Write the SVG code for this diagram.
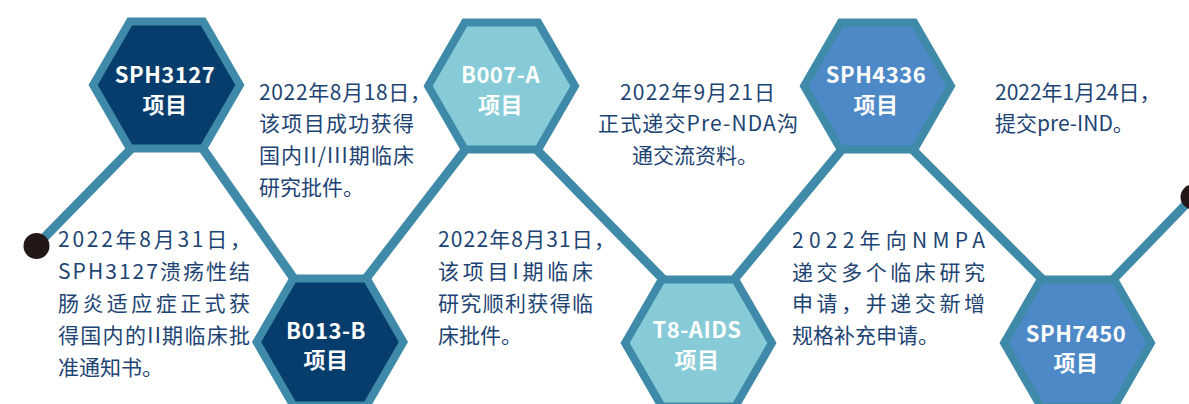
<svg xmlns="http://www.w3.org/2000/svg" width="1189" height="404" viewBox="0 0 1189 404">
<style>
.bg{fill:#ffffff}
.hex{stroke:#3f8aa8;stroke-width:8;stroke-linejoin:miter}
.dark{fill:#063d6d}
.light{fill:#86cbd7}
.mid{fill:#4e89c7}
.conn line{stroke:#3f8aa8;stroke-width:9;stroke-linecap:butt}
.dot{fill:#231815}
.lbl{font-family:"Noto Sans CJK SC","Noto Sans",sans-serif;font-size:22px;font-weight:700;fill:#ffffff;text-anchor:middle;letter-spacing:0.5px}
.t{font-family:"Noto Sans CJK SC","Noto Sans",sans-serif;font-size:21px;fill:#1d4473}
</style>
<rect class="bg" x="0" y="0" width="1189" height="404"/>
<g id="connectors" class="conn">
<line x1="36" y1="246" x2="134.5" y2="145.4"/>
<line x1="199.8" y1="144.3" x2="296.7" y2="282.7"/>
<line x1="362.9" y1="282.4" x2="468.6" y2="145.6"/>
<line x1="533.5" y1="146.3" x2="666.5" y2="282.7"/>
<line x1="731.1" y1="283.2" x2="844.9" y2="145.8"/>
<line x1="909.4" y1="146.4" x2="1045.6" y2="282.6"/>
<line x1="1109.8" y1="282.9" x2="1193" y2="197"/>
</g>
<g id="dot-start"><circle class="dot" cx="36.5" cy="246" r="13"/></g>
<g id="dot-end"><circle class="dot" cx="1193" cy="197" r="12.5"/></g>
<g id="node-sph3127">
<polygon class="hex dark" points="93.1,85 129.8,21.4 203.2,21.4 239.9,85 203.2,148.6 129.8,148.6"/>
<text class="lbl" x="165" y="83">SPH3127</text>
<text class="lbl" x="165" y="113">项目</text>
</g>
<g id="node-b013b">
<polygon class="hex dark" points="256.6,342 293.3,278.4 366.7,278.4 403.4,342 366.7,405.6 293.3,405.6"/>
<text class="lbl" x="326" y="339">B013-B</text>
<text class="lbl" x="326" y="368">项目</text>
</g>
<g id="node-b007a">
<polygon class="hex light" points="428.1,86 464.8,22.4 538.2,22.4 574.9,86 538.2,149.6 464.8,149.6"/>
<text class="lbl" x="500.5" y="83">B007-A</text>
<text class="lbl" x="500.5" y="113">项目</text>
</g>
<g id="node-t8aids">
<polygon class="hex light" points="625.1,343 661.8,279.4 735.2,279.4 771.9,343 735.2,406.6 661.8,406.6"/>
<text class="lbl" x="697" y="338">T8-AIDS</text>
<text class="lbl" x="697" y="368">项目</text>
</g>
<g id="node-sph4336">
<polygon class="hex mid" points="804.1,86 840.8,22.4 914.2,22.4 950.9,86 914.2,149.6 840.8,149.6"/>
<text class="lbl" x="876" y="83">SPH4336</text>
<text class="lbl" x="876" y="113">项目</text>
</g>
<g id="node-sph7450">
<polygon class="hex mid" points="1004.1,343 1040.8,279.4 1114.2,279.4 1150.9,343 1114.2,406.6 1040.8,406.6"/>
<text class="lbl" x="1076" y="342">SPH7450</text>
<text class="lbl" x="1076" y="371">项目</text>
</g>
<g id="note-sph3127-a">
<text class="t" x="259" y="100" textLength="172" lengthAdjust="spacing">2022年8月18日，</text>
<text class="t" x="259" y="131" textLength="155" lengthAdjust="spacing">该项目成功获得</text>
<text class="t" x="259" y="163" textLength="155" lengthAdjust="spacing">国内II/III期临床</text>
<text class="t" x="259" y="195">研究批件。</text>
</g>
<g id="note-sph3127-b">
<text class="t" x="58" y="247" textLength="193" lengthAdjust="spacing">2022年8月31日，</text>
<text class="t" x="58" y="279" textLength="192" lengthAdjust="spacing">SPH3127溃疡性结</text>
<text class="t" x="58" y="311" textLength="192" lengthAdjust="spacing">肠炎适应症正式获</text>
<text class="t" x="58" y="343" textLength="192" lengthAdjust="spacing">得国内的II期临床批</text>
<text class="t" x="58" y="375">准通知书。</text>
</g>
<g id="note-b007a">
<text class="t" x="438" y="247" textLength="177" lengthAdjust="spacing">2022年8月31日，</text>
<text class="t" x="438" y="279" textLength="155" lengthAdjust="spacing">该项目I期临床</text>
<text class="t" x="438" y="311" textLength="155" lengthAdjust="spacing">研究顺利获得临</text>
<text class="t" x="438" y="343">床批件。</text>
</g>
<g id="note-t8aids">
<text class="t" x="620" y="100" textLength="155" lengthAdjust="spacing">2022年9月21日</text>
<text class="t" x="598" y="131" textLength="200" lengthAdjust="spacing">正式递交Pre-NDA沟</text>
<text class="t" x="632" y="163">通交流资料。</text>
</g>
<g id="note-sph4336">
<text class="t" x="995" y="100">2022年1月24日，</text>
<text class="t" x="995" y="131">提交pre-IND。</text>
</g>
<g id="note-sph7450">
<text class="t" x="792" y="248" textLength="193" lengthAdjust="spacing">2022年向NMPA</text>
<text class="t" x="792" y="280" textLength="193" lengthAdjust="spacing">递交多个临床研究</text>
<text class="t" x="792" y="311" textLength="193" lengthAdjust="spacing">申请，并递交新增</text>
<text class="t" x="792" y="343">规格补充申请。</text>
</g>
</svg>
